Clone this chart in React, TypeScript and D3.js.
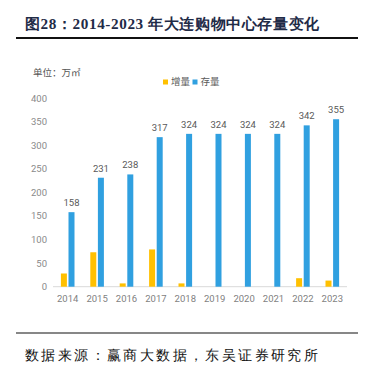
import React from "react";
import * as d3 from "d3";

const years = ["2014", "2015", "2016", "2017", "2018", "2019", "2020", "2021", "2022", "2023"];
const increment = [28, 73, 7, 79, 7, 0, 0, 0, 18, 13];
const stock = [158, 231, 238, 317, 324, 324, 324, 324, 342, 355];
const yTicks = [0, 50, 100, 150, 200, 250, 300, 350, 400];
const seriesNames = ["增量", "存量"];

const W = 368;
const H = 372;
const YELLOW = "#FFC000";
const BLUE = "#30A0E0";

export default function App() {
  const x = d3.scaleBand<string>().domain(years).range([53, 347]).padding(0);
  const y = d3.scaleLinear().domain([0, 400]).range([286.7, 98]);
  const bw = 6;
  const gap = 1.6;
  const sans = "Roboto, 'Noto Sans CJK SC', sans-serif";
  const serif = "'Liberation Serif', 'Times New Roman', serif";

  return (
    <svg width={W} height={H} style={{ position: "absolute", left: 0, top: 0 }}>
      <rect width={W} height={H} fill="#fff" />
      <text x={25} y={29} fontFamily={serif} fontWeight="bold" fontSize={15.2} letterSpacing={0.6} fill="#1f2b47">
        图28：2014-2023 年大连购物中心存量变化
      </text>
      <line x1={16} x2={358} y1={38} y2={38} stroke="#111" strokeWidth={1.8} />

      <text x={33} y={76} fontFamily={sans} fontSize={9.5} fill="#555">
        单位：万㎡
      </text>

      {/* legend */}
      <rect x={163} y={79.5} width={5} height={5} fill={YELLOW} />
      <text x={171} y={85} fontFamily={sans} fontSize={9.5} fill="#595959">{seriesNames[0]}</text>
      <rect x={192.5} y={79.5} width={5} height={5} fill={BLUE} />
      <text x={200.5} y={85} fontFamily={sans} fontSize={9.5} fill="#595959">{seriesNames[1]}</text>

      {yTicks.map((t) => (
        <text key={t} x={47} y={y(t) + 3.5} textAnchor="end" fontFamily={sans} fontSize={9.5} fill="#8a8a8a">
          {t}
        </text>
      ))}

      <line x1={53} x2={347} y1={y(0)} y2={y(0)} stroke="#d9d9d9" strokeWidth={1} />

      {years.map((yr, i) => {
        const cx = (x(yr) as number) + x.bandwidth() / 2;
        return (
          <g key={yr}>
            {increment[i] > 0 && (
              <rect x={cx - gap / 2 - bw} y={y(increment[i])} width={bw} height={y(0) - y(increment[i])} fill={YELLOW} />
            )}
            <rect x={cx + gap / 2} y={y(stock[i])} width={bw} height={y(0) - y(stock[i])} fill={BLUE} />
            <text x={cx + gap / 2 + bw / 2} y={y(stock[i]) - 6} textAnchor="middle" fontFamily={sans} fontSize={9.5} fill="#595959">
              {stock[i]}
            </text>
            <text x={cx} y={y(0) + 15} textAnchor="middle" fontFamily={sans} fontSize={9.5} fill="#7f7f7f">
              {yr}
            </text>
          </g>
        );
      })}

      <line x1={16} x2={358} y1={333} y2={333} stroke="#111" strokeWidth={1.2} />
      <text x={25} y={360} fontFamily={serif} fontSize={13.5} letterSpacing={2.4} fill="#111">
        数据来源：赢商大数据，东吴证券研究所
      </text>
    </svg>
  );
}
